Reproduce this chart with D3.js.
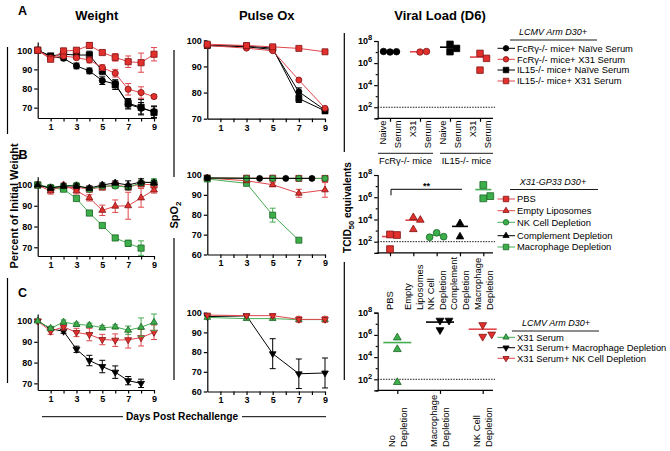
<!DOCTYPE html>
<html><head><meta charset="utf-8">
<script src="https://cdn.jsdelivr.net/npm/d3@7"></script>
<style>
body{margin:0;background:#fff}
svg{display:block;background:#fff}
text{font-family:"Liberation Sans",Arial,sans-serif;fill:#000}
.axis path,.axis line{stroke:#000;stroke-width:1.2}
.axis text{font-size:9px;font-weight:bold}
</style>
</head><body>
<svg id="c" width="670" height="451"></svg>
<script>
// ---------------- DATA ----------------
const days = [0,1,2,3,4,5,6,7,8,9];
const days8 = [0,1,2,3,4,5,6,7,8];
const oxDays = [0,3,5,7,9];
const oxDaysMac = [0,3,5,7];
const oxDaysEven = [0,4,6,8];

// Panel A (LCMV Arm D30+)
const legendA = ["FcRγ-/- mice+ Naïve Serum","FcRγ-/- mice+ X31 Serum","IL15-/- mice+ Naïve Serum","IL15-/- mice+ X31 Serum"];
const wA_fcrNaive = [100,96.7,95.8,91.8,89.2,84.1,82.4,71.8,69.7,67.9];
const wA_fcrNaive_err = [0.5,1,1,1.5,1.5,2,2,2.5,3,3];
const wA_fcrX31 = [100,96,97,96.1,94.9,90.9,88,79.6,77.9,75.8];
const wA_fcrX31_err = [0.5,1,1,1,1.5,1.5,2,3,3,1];
const wA_il15Naive = [100,97,97.9,97.5,97.5,89.2,82,72.3,70.2,67.5];
const wA_il15Naive_err = [0.5,1,1,1.5,2,2,2.5,2.5,4,3];
const wA_il15X31 = [100,95.3,99.6,100,102.5,98.8,96.3,94,93.5,97.9];
const wA_il15X31_err = [0.5,1,1.5,1,1.5,1,2,3,5,3.5];
const oxA_fcrNaive = [98,97.5,96.5,80.3,73.3];
const oxA_fcrX31 = [98,97,96,84.8,74];
const oxA_il15Naive = [98,97.8,97,77.7,73];
const oxA_il15X31 = [98.5,98,97.5,96.9,95.6];
const oxA_err = [0.5,0.5,0.8,1.5,1];
const catsA = [["Naive","Serum"],["X31","Serum"],["Naive","Serum"],["X31","Serum"]];
const groupsA = ["FcRγ-/- mice","IL15-/- mice"];
const vlA_fcrNaive = [7.0,7.03,7.05];   // log10 TCID50
const vlA_fcrX31 = [7.0,7.05];
const vlA_il15Naive = [7.7,7.03,7.33];
const vlA_il15X31 = [6.88,6.43,5.36];

// Panel B (X31-GP33 D30+)
const legendB = ["PBS","Empty Liposomes","NK Cell Depletion","Complement Depletion","Macrophage Depletion"];
const wB_pbs = [100,98.5,98.5,99,98,99,100,99,100.5,100];
const wB_pbs_err = [0.5,1,1,1,1,1,1,1,1,1];
const wB_empty = [100,97.1,100,97.2,93.8,87.8,89.8,90,93.8,97.6];
const wB_empty_err = [0.5,1.5,1,1.5,1.5,2.5,3,6.5,4.5,1.5];
const wB_nk = [100,99,99.5,100,98,99.5,99.5,99,101,101.5];
const wB_nk_err = [0.5,1,1,1,1,1,1,1,1,1.5];
const wB_comp = [100,98.5,99.5,99.5,98.5,100,101,100,101.5,101];
const wB_comp_err = [0.5,1,1,1,1,1,1,2,1.5,1];
const wB_mac = [100,98.5,98,93.5,86.5,80.5,74.5,71.9,69.6];
const wB_mac_err = [0.5,1,1,1,1,1,1,1.5,3.5];
const oxB_pbs = [98.5,98.4,98.4,98.3,98.3];
const oxB_empty = [98.5,97.1,95.1,90.8,92.5];
const oxB_empty_err = [0.5,0.5,1,2,3.7];
const oxB_nk = [98.5,98.3,98.3,98.3,98.3];
const oxB_comp = [98.5,98.3,98.3,98.3];
const oxB_mac = [98,95.8,79.8,67.2];
const oxB_mac_err = [0.5,0.5,3.5,0.5];
const catsB = [["PBS"],["Empty","Liposomes"],["NK Cell","Depletion"],["Complement","Depletion"],["Macrophage","Depletion"]];
const vlB_pbs = [2.65,2.6,1.33];
const vlB_empty = [4.19,3.95,3.1];
const vlB_nk = [2.8,2.45,2.4];
const vlB_comp = [3.65,2.45];
const vlB_mac = [7.1,5.9,6.1];
const sigB = "**";

// Panel C (LCMV Arm D30+)
const legendC = ["X31 Serum","X31 Serum+ Macrophage Depletion","X31 Serum+ NK Cell Depletion"];
const wC_x31 = [100,96.5,99.5,98.4,98,96.8,97.2,95.6,97,99.4];
const wC_x31_err = [0.5,1,1,1,1,1,1,2,4.5,4];
const wC_mac = [100,96.3,95.1,86.4,81,78.1,75.4,71.3,70];
const wC_mac_err = [0.5,1,1,1.5,2.5,3,3,2,2];
const wC_nk = [100,95.1,97.2,94.5,93.5,91.1,90.8,91,92,94.6];
const wC_nk_err = [0.5,1.5,1.5,2,3,2.5,3,4,4,3.5];
const oxC_x31 = [97.6,97,97,96.5,96.5];
const oxC_mac = [98,98.4,79.2,69,69.4];
const oxC_mac_err = [0.5,0.5,7.6,7.5,7.6];
const oxC_nk = [98.8,98.5,98.5,96.6,96.6];
const oxC_nk_err = [0.5,0.5,1,1.5,1.5];
const catsC = [["No","Depletion"],["Macrophage","Depletion"],["NK Cell","Depletion"]];
const vlC_x31 = [5.75,4.7,1.73];
const vlC_mac = [7.3,7.3,6.45];
const vlC_nk = [6.9,5.85,6.05];

const yTicksW = [70,80,90,100];
const yTicksOxA = [70,80,90,100];
const yTicksOx = [60,70,80,90,100];
const logTicks = [1,2,3,4,5,6,7,8];

// ---------------- STYLES ----------------
const RED="#e2302c", RED_D="#7d1414", RED_L="#e0474c";
const GRN="#3cae4a", GRN_D="#1c6426", GRN_L="#45ad52";
const BLK="#000";
const ST = {
  blkCircle:{sym:"circle",fill:BLK,stroke:BLK,line:BLK},
  redCircle:{sym:"circle",fill:RED,stroke:RED_D,line:RED_L},
  blkSquare:{sym:"square",fill:BLK,stroke:BLK,line:BLK},
  redSquare:{sym:"square",fill:RED,stroke:RED_D,line:RED_L},
  redTri:{sym:"tri",fill:RED,stroke:RED_D,line:RED_L},
  grnCircle:{sym:"circle",fill:GRN,stroke:GRN_D,line:GRN_L},
  blkTri:{sym:"tri",fill:BLK,stroke:BLK,line:BLK},
  grnSquare:{sym:"square",fill:GRN,stroke:GRN_D,line:GRN_L},
  grnTri:{sym:"tri",fill:GRN,stroke:GRN_D,line:GRN_L},
  blkInv:{sym:"inv",fill:BLK,stroke:BLK,line:BLK},
  redInv:{sym:"inv",fill:RED,stroke:RED_D,line:RED_L}
};

const svg = d3.select("#c");

function symPath(type, w){
  if(type==="circle") return d3.symbol(d3.symbolCircle, Math.PI*(w/2)*(w/2))();
  if(type==="square") return d3.symbol(d3.symbolSquare, w*w)();
  return d3.symbol(d3.symbolTriangle, Math.sqrt(3)/4*w*w*1.25)();
}
function marker(g, st, cx, cy, w){
  g.append("path").attr("d", symPath(st.sym,w))
   .attr("transform", `translate(${cx},${cy})` + (st.sym==="inv"?" rotate(180)":""))
   .attr("fill", st.fill).attr("stroke", st.stroke).attr("stroke-width", 0.8);
}

// ---------------- LINE PANELS ----------------
function linePanel(p, series){
  const x = d3.scaleLinear().domain([0,9]).range([p.x0,p.x1]);
  const y = d3.scaleLinear().domain(p.yd).range([p.yb,p.yt]);
  svg.append("g").attr("class","axis").attr("transform",`translate(0,${p.yb})`)
    .call(d3.axisBottom(x).tickValues(d3.range(1,10)).tickSize(3.5).tickSizeOuter(0).tickPadding(2)
      .tickFormat(d => d%2 ? d : ""));
  svg.append("g").attr("class","axis").attr("transform",`translate(${p.x0},0)`)
    .call(d3.axisLeft(y).tickValues(p.ticks).tickSize(3.5).tickSizeOuter(0).tickPadding(2));
  const g = svg.append("g");
  series.forEach(s => {
    const pts = s.x.map((d,i)=>({d, v:s.v[i], e:s.e ? s.e[i] : 0}));
    g.append("path").datum(pts).attr("fill","none").attr("stroke",s.st.line).attr("stroke-width",1)
      .attr("d", d3.line().x(d=>x(d.d)).y(d=>y(d.v)));
    pts.forEach(pt => {
      if(pt.e > 0.6){
        const cx = x(pt.d), y1 = y(pt.v+pt.e), y2 = y(pt.v-pt.e);
        g.append("path").attr("d",`M${cx},${y1}V${y2}M${cx-3},${y1}H${cx+3}M${cx-3},${y2}H${cx+3}`)
          .attr("stroke", s.st.line).attr("stroke-width",1).attr("fill","none");
      }
    });
    pts.forEach(pt => marker(g, s.st, x(pt.d), y(pt.v), p.mw));
  });
}

// ---------------- SCATTER PANELS ----------------
function scatterPanel(p, groups, cats){
  const x = d3.scalePoint().domain(d3.range(cats.length)).range([p.c0,p.c1]);
  const y = d3.scaleLog().domain([10,1e8]).range([p.yb,p.yt]);
  const ya = svg.append("g").attr("class","axis").attr("transform",`translate(${p.x0},0)`)
    .call(d3.axisLeft(y).tickValues(logTicks.map(e=>Math.pow(10,e))).tickSizeOuter(0).tickSize(3.5).tickPadding(2)
      .tickFormat(d => ""));
  ya.selectAll(".tick").each(function(d){
    const e = Math.round(Math.log10(d));
    const t = d3.select(this);
    if(e%2===1){ t.select("line").attr("x2",-2); return; }
    const tx = t.select("text").text(null);
    tx.append("tspan").text("10");
    tx.append("tspan").attr("dy",-4).attr("font-size","7.5px").text(e);
  });
  const xa = svg.append("g").attr("class","axis").attr("transform",`translate(0,${p.yb})`)
    .call(d3.axisBottom(x).tickSize(3.5).tickSizeOuter(0).tickFormat(""));
  xa.select(".domain").attr("d",`M${p.x0},0H${p.x1}`);
  svg.append("line").attr("x1",p.x0).attr("x2",p.xd).attr("y1",y(100)).attr("y2",y(100))
    .attr("stroke","#000").attr("stroke-width",0.9).attr("stroke-dasharray","1.5,1.2");
  const g = svg.append("g");
  groups.forEach(gr => {
    const cx = x(gr.cat);
    const m = d3.mean(gr.v, v=>Math.pow(10,v));
    g.append("line").attr("x1",cx-p.mlw).attr("x2",cx+p.mlw).attr("y1",y(m)).attr("y2",y(m))
      .attr("stroke", gr.st.line).attr("stroke-width",1.6);
  });
  groups.forEach(gr => {
    const cx = x(gr.cat);
    const placed = [];
    const offs = [0,1,-1,2,-2];
    gr.v.forEach(v => {
      const py = y(Math.pow(10,v));
      let ox = 0;
      for(const o of offs){
        const px = cx + o*p.jit;
        if(placed.every(q => Math.hypot(q[0]-px,q[1]-py) >= p.mw)){ ox = o*p.jit; break; }
      }
      placed.push([cx+ox,py]);
      marker(g, gr.st, cx+ox, py, p.mw);
    });
  });
  cats.forEach((lines,i) => {
    const cx = x(i);
    lines.forEach((ln,j) => {
      const lx = cx + (j-(lines.length-1)/2)*p.lgap + 3.3;
      svg.append("text").attr("transform",`translate(${lx},${p.ly}) rotate(-90)`)
        .attr("text-anchor", p.lanchor).attr("font-size","9.4px").text(ln);
    });
  });
  return {x,y};
}

// ---------------- LEGENDS ----------------
function legend(cx, ty, x1, x2, title, items, ys){
  svg.append("text").attr("x",cx).attr("y",ty).attr("text-anchor","middle")
    .attr("font-size","9px").attr("font-style","italic").text(title);
  svg.append("line").attr("x1",x1).attr("x2",x2).attr("y1",ty+5).attr("y2",ty+5).attr("stroke","#000").attr("stroke-width",0.9);
  items.forEach((it,i) => {
    const yy = ys[i];
    svg.append("line").attr("x1",497.5).attr("x2",515).attr("y1",yy).attr("y2",yy).attr("stroke",it.st.line).attr("stroke-width",1);
    marker(svg, it.st, 506, yy, 5.5);
    svg.append("text").attr("x",517).attr("y",yy+3.3).attr("font-size","9.4px").text(it.label);
  });
}

// ---------------- DRAW ----------------
// A
linePanel({x0:37.7,x1:154,yb:118,yt:42,yd:[64.6,104.3],ticks:yTicksW,mw:6.2},[
  {x:days,v:wA_fcrNaive,e:wA_fcrNaive_err,st:ST.blkCircle},
  {x:days,v:wA_il15Naive,e:wA_il15Naive_err,st:ST.blkSquare},
  {x:days,v:wA_fcrX31,e:wA_fcrX31_err,st:ST.redCircle},
  {x:days,v:wA_il15X31,e:wA_il15X31_err,st:ST.redSquare}
]);
linePanel({x0:207.3,x1:325,yb:118.7,yt:40.3,yd:[70,100],ticks:yTicksOxA,mw:6},[
  {x:oxDays,v:oxA_fcrNaive,e:oxA_err,st:ST.blkCircle},
  {x:oxDays,v:oxA_il15Naive,e:oxA_err,st:ST.blkSquare},
  {x:oxDays,v:oxA_fcrX31,st:ST.redCircle},
  {x:oxDays,v:oxA_il15X31,st:ST.redSquare}
]);
scatterPanel({x0:377.7,x1:493,xd:495,yb:118.3,yt:41,c0:390,c1:480,jit:6.5,mw:6.5,mlw:10,lgap:15,ly:120.5,lanchor:"end"},[
  {cat:0,v:vlA_fcrNaive,st:ST.blkCircle},
  {cat:1,v:vlA_fcrX31,st:ST.redCircle},
  {cat:2,v:vlA_il15Naive,st:ST.blkSquare},
  {cat:3,v:vlA_il15X31,st:ST.redSquare}
], catsA);
[[groupsA[0],378,433],[groupsA[1],440,493]].forEach(([t,a,b]) => {
  svg.append("line").attr("x1",a).attr("x2",b).attr("y1",153.3).attr("y2",153.3).attr("stroke","#000").attr("stroke-width",0.9);
  svg.append("text").attr("x",(a+b)/2).attr("y",163.5).attr("text-anchor","middle").attr("font-size","9.4px").text(t);
});
legend(553,35,510,597,"LCMV Arm D30+",legendA.map((l,i)=>({label:l,st:[ST.blkCircle,ST.redCircle,ST.blkSquare,ST.redSquare][i]})),[48.3,59.3,70,81]);

// B
linePanel({x0:37.7,x1:154,yb:256,yt:176.7,yd:[65.8,104],ticks:yTicksW,mw:6.2},[
  {x:days,v:wB_pbs,e:wB_pbs_err,st:ST.redSquare},
  {x:days8,v:wB_mac,e:wB_mac_err,st:ST.grnSquare},
  {x:days,v:wB_empty,e:wB_empty_err,st:ST.redTri},
  {x:days,v:wB_nk,e:wB_nk_err,st:ST.grnCircle},
  {x:days,v:wB_comp,e:wB_comp_err,st:ST.blkTri}
]);
linePanel({x0:207.3,x1:325,yb:254.5,yt:175,yd:[60,100],ticks:yTicksOx,mw:6},[
  {x:oxDays,v:oxB_pbs,st:ST.redSquare},
  {x:oxDaysMac,v:oxB_mac,e:oxB_mac_err,st:ST.grnSquare},
  {x:oxDays,v:oxB_empty,e:oxB_empty_err,st:ST.redTri},
  {x:oxDays,v:oxB_nk,st:ST.grnCircle},
  {x:oxDaysEven,v:oxB_comp,st:ST.blkCircle}
]);
const sb = scatterPanel({x0:377.7,x1:493,xd:495,yb:252.8,yt:175,c0:390,c1:483.3,jit:7,mw:6.8,mlw:8,lgap:12,ly:310,lanchor:"start"},[
  {cat:0,v:vlB_pbs,st:ST.redSquare},
  {cat:1,v:vlB_empty,st:ST.redTri},
  {cat:2,v:vlB_nk,st:ST.grnCircle},
  {cat:3,v:vlB_comp,st:ST.blkTri},
  {cat:4,v:vlB_mac,st:ST.grnSquare}
], catsB);
{
  const bx1 = sb.x(0)+1, bx2 = sb.x(3)+2, by = 189.3;
  svg.append("path").attr("d",`M${bx1},${by+6}V${by}H${bx2}`).attr("fill","none").attr("stroke","#000").attr("stroke-width",1);
  svg.append("text").attr("x",(bx1+bx2)/2).attr("y",by-0.5).attr("text-anchor","middle").attr("font-size","9px").attr("font-weight","bold").text(sigB);
}
legend(553,184.5,510,598,"X31-GP33 D30+",legendB.map((l,i)=>({label:l,st:[ST.redSquare,ST.redTri,ST.grnCircle,ST.blkTri,ST.grnSquare][i]})),[199,210.7,222.3,235.7,247]);

// C
linePanel({x0:37.7,x1:154,yb:390,yt:314,yd:[66.8,103.4],ticks:yTicksW,mw:6.2},[
  {x:days8,v:wC_mac,e:wC_mac_err,st:ST.blkInv},
  {x:days,v:wC_nk,e:wC_nk_err,st:ST.redInv},
  {x:days,v:wC_x31,e:wC_x31_err,st:ST.grnTri}
]);
linePanel({x0:207.3,x1:325,yb:391.5,yt:312.7,yd:[60,100],ticks:yTicksOx,mw:6},[
  {x:oxDays,v:oxC_mac,e:oxC_mac_err,st:ST.blkInv},
  {x:oxDays,v:oxC_x31,st:ST.grnTri},
  {x:oxDays,v:oxC_nk,e:oxC_nk_err,st:ST.redInv}
]);
scatterPanel({x0:377.7,x1:493,xd:495,yb:390.4,yt:312.7,c0:397.3,c1:482.7,jit:9,mw:7,mlw:14,lgap:12,ly:447,lanchor:"start"},[
  {cat:0,v:vlC_x31,st:ST.grnTri},
  {cat:1,v:vlC_mac,st:ST.blkInv},
  {cat:2,v:vlC_nk,st:ST.redInv}
], catsC);
legend(556,326,512,599,"LCMV Arm D30+",legendC.map((l,i)=>({label:l,st:[ST.grnTri,ST.blkInv,ST.redInv][i]})),[337.3,347.7,358.3]);

// ---------------- TITLES & LABELS ----------------
const T = (x,y,t,sz) => svg.append("text").attr("x",x).attr("y",y).attr("text-anchor","middle")
    .attr("font-size",sz+"px").attr("font-weight","bold").text(t);
T(22.5,15.3,"A",12.5); T(23,158.5,"B",12.5); T(22.5,297,"C",12.5);
T(96.7,19.5,"Weight",13); T(266.7,19.5,"Pulse Ox",13); T(440,19.5,"Viral Load (D6)",13);

const vl = (x,a,b) => svg.append("line").attr("x1",x).attr("x2",x).attr("y1",a).attr("y2",b).attr("stroke","#000").attr("stroke-width",1.2);
vl(7.5,47,134); vl(7.5,278,383);
vl(174,50,177); vl(174,238,380);
vl(344.3,33,152); vl(344.3,262,380);

svg.append("text").attr("transform","translate(17.5,206) rotate(-90)").attr("text-anchor","middle")
  .attr("font-size","11px").attr("font-weight","bold").text("Percent of Initial Weight");
{
  const t = svg.append("text").attr("transform","translate(177.5,215) rotate(-90)").attr("text-anchor","middle")
    .attr("font-size","11px").attr("font-weight","bold");
  t.append("tspan").text("SpO");
  t.append("tspan").attr("dy",3).attr("font-size","8px").text("2");
}
{
  const t = svg.append("text").attr("transform","translate(350.5,207.5) rotate(-90)").attr("text-anchor","middle")
    .attr("font-size","10.2px").attr("font-weight","bold");
  t.append("tspan").text("TCID");
  t.append("tspan").attr("dy",3).attr("font-size","7.5px").text("50");
  t.append("tspan").attr("dy",-3).text(" equivalents");
}
svg.append("text").attr("x",182).attr("y",420.3).attr("text-anchor","middle").attr("font-size","10.2px").attr("font-weight","bold").text("Days Post Rechallenge");
svg.append("line").attr("x1",42).attr("x2",123).attr("y1",416.7).attr("y2",416.7).attr("stroke","#000").attr("stroke-width",1);
svg.append("line").attr("x1",242).attr("x2",326).attr("y1",416.7).attr("y2",416.7).attr("stroke","#000").attr("stroke-width",1);
</script>
</body></html>
